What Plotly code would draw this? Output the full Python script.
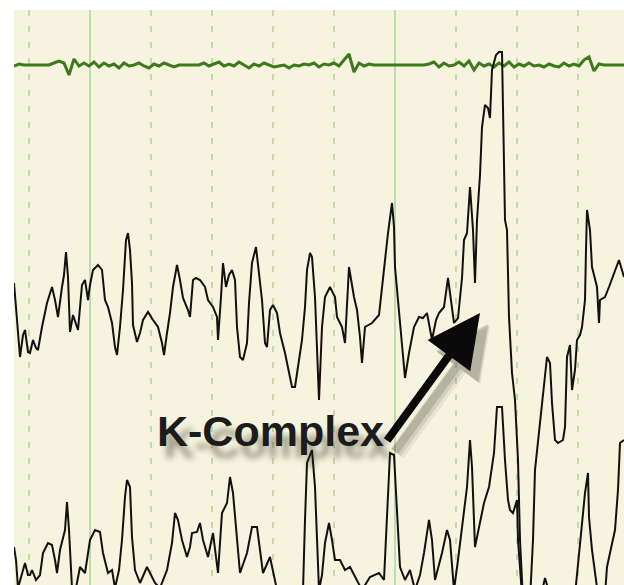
import plotly.graph_objects as go

# ---- Data (sample position, displayed level; level axis increases downward) ----
green_start = 14
green_step = 5
green_y = [66, 64, 65, 65, 65, 65, 65, 65, 63, 61, 63, 75, 59, 66, 63, 66, 62, 67, 63, 66,
           64, 68, 63, 66, 65, 63, 66, 68, 64, 66, 63, 65, 67, 65, 65, 65, 65, 65, 63, 66,
           64, 62, 66, 64, 66, 62, 65, 68, 64, 66, 63, 65, 67, 66, 65, 68, 65, 66, 64, 65,
           63, 67, 64, 65, 63, 66, 60, 54, 72, 63, 66, 64, 65, 65, 65, 65, 65, 65, 65, 65,
           65, 65, 65, 64, 62, 67, 63, 66, 65, 62, 66, 61, 70, 63, 66, 64, 67, 63, 66, 62,
           67, 64, 66, 63, 66, 65, 67, 64, 66, 67, 63, 66, 64, 66, 60, 57, 71, 64, 65, 65,
           65, 65, 65]
green_x = [green_start + green_step * i for i in range(len(green_y))]

mid_x = [14, 17, 20, 23, 25, 28, 30, 33, 36, 38, 42, 47, 52, 55, 58, 62, 64, 66, 68, 70,
         73, 78, 82, 85, 88, 90, 93, 98, 102, 105, 108, 112, 115, 117, 120, 123, 126, 128, 130, 132,
         133, 137, 140, 143, 148, 153, 158, 162, 164, 167, 170, 173, 177, 180, 183, 188, 190, 193, 196, 200,
         205, 208, 213, 217, 218, 221, 223, 226, 229, 232, 235, 237, 240, 243, 247, 249, 252, 256, 258, 262,
         265, 267, 270, 273, 277, 280, 285, 288, 292, 295, 298, 302, 305, 307, 310, 312, 315, 319, 322, 325,
         330, 335, 337, 342, 345, 348, 349, 354, 357, 360, 362, 365, 368, 372, 379, 382, 385, 388, 392, 394,
         395, 399, 403, 405, 409, 414, 419, 423, 427, 432, 436, 439, 444, 447, 448, 450, 454, 458, 462, 464,
         467, 470, 473, 475, 477, 480, 482, 485, 488, 490, 492, 496, 499, 502, 503, 505, 507, 509, 512, 515,
         517, 518, 520, 523, 530, 533, 535, 538, 540, 543, 547, 550, 552, 555, 558, 563, 565, 567, 570, 572,
         575, 577, 580, 582, 585, 586, 587, 590, 592, 597, 599, 600, 605, 609, 614, 619, 624]
mid_y = [283, 320, 357, 335, 330, 352, 353, 340, 348, 350, 327, 303, 287, 300, 317, 287, 275, 252, 277, 332,
         315, 330, 285, 280, 300, 285, 270, 265, 270, 300, 307, 323, 347, 355, 327, 290, 240, 233, 250, 283,
         325, 342, 333, 320, 312, 320, 327, 343, 355, 333, 313, 287, 265, 280, 298, 310, 317, 280, 278, 280,
         287, 300, 307, 317, 340, 297, 263, 287, 275, 270, 280, 327, 357, 360, 343, 303, 263, 247, 267, 300,
         343, 347, 310, 305, 313, 333, 353, 367, 387, 387, 367, 340, 307, 270, 253, 257, 297, 400, 327, 297,
         287, 297, 317, 327, 343, 293, 267, 297, 310, 337, 363, 327, 325, 323, 315, 287, 263, 233, 203, 227,
         267, 313, 360, 378, 353, 327, 317, 318, 313, 340, 320, 313, 307, 287, 278, 293, 323, 318, 278, 240,
         233, 187, 230, 283, 220, 175, 127, 105, 108, 118, 70, 55, 52, 52, 110, 220, 230, 317, 373, 400,
         440, 460, 540, 600, 600, 540, 470, 440, 423, 390, 357, 363, 403, 440, 443, 440, 427, 357, 345, 390,
         370, 340, 335, 327, 300, 250, 210, 230, 267, 287, 323, 300, 297, 287, 273, 260, 277]

bot_x = [14, 16, 18, 22, 25, 28, 30, 32, 36, 40, 43, 48, 52, 55, 57, 60, 65, 67, 69, 72,
         76, 80, 85, 90, 95, 100, 103, 108, 112, 115, 119, 122, 125, 127, 130, 132, 135, 140, 147, 152,
         155, 160, 167, 172, 175, 178, 182, 187, 190, 192, 197, 200, 203, 208, 213, 218, 222, 227, 230, 233,
         237, 240, 247, 252, 257, 260, 263, 270, 273, 277, 290, 303, 305, 307, 312, 315, 319, 322, 325, 329,
         332, 335, 340, 345, 350, 355, 362, 370, 379, 384, 387, 390, 394, 397, 400, 405, 410, 415, 420, 424,
         429, 432, 435, 442, 447, 450, 454, 458, 462, 467, 470, 472, 475, 479, 484, 489, 494, 497, 502, 505,
         508, 510, 513, 517, 518, 522, 540, 545, 550, 575, 577, 582, 585, 588, 589, 592, 598, 605, 607, 610,
         615, 618, 620, 624]
bot_y = [547, 560, 588, 575, 563, 575, 575, 570, 580, 575, 553, 543, 545, 560, 573, 550, 530, 502, 530, 588,
         588, 567, 573, 540, 530, 532, 553, 573, 570, 588, 570, 540, 497, 480, 487, 537, 570, 583, 567, 577,
         583, 588, 570, 543, 513, 520, 540, 557, 547, 533, 532, 523, 540, 557, 533, 573, 513, 503, 477, 493,
         540, 573, 553, 527, 527, 550, 573, 557, 573, 590, 595, 590, 520, 463, 450, 487, 590, 575, 543, 523,
         540, 560, 560, 570, 567, 577, 590, 577, 573, 580, 520, 453, 455, 513, 567, 580, 570, 590, 575, 553,
         520, 540, 580, 553, 530, 540, 590, 560, 527, 487, 440, 467, 547, 527, 503, 487, 453, 407, 407, 460,
         500, 510, 513, 500, 540, 595, 600, 578, 595, 595, 573, 523, 493, 473, 517, 550, 595, 595, 567, 553,
         530, 490, 443, 440]

label_text = "K-Complex"
label_pos = (270, 431)
arrow_tail = (386, 442)
arrow_head = (480, 313)

# ---- Styling ----
BG = "#F6F3DE"
GRID = "#BEDDA8"
GREEN = "#3C7A1C"
BLACK = "#111111"

fig = go.Figure()
fig.add_trace(go.Scatter(x=green_x, y=green_y, mode="lines",
                         line=dict(color=GREEN, width=3), hoverinfo="skip"))
fig.add_trace(go.Scatter(x=mid_x, y=mid_y, mode="lines",
                         line=dict(color=BLACK, width=2), hoverinfo="skip"))
fig.add_trace(go.Scatter(x=bot_x, y=bot_y, mode="lines",
                         line=dict(color=BLACK, width=2), hoverinfo="skip"))

# arrow shadow (soft layers)
for dx, dy, op, w in [(10, 13, 0.08, 16), (9, 12, 0.12, 12), (8, 11, 0.18, 8)]:
    fig.add_annotation(x=arrow_head[0] + dx, y=arrow_head[1] + dy,
                       ax=arrow_tail[0] + dx, ay=arrow_tail[1] + dy,
                       xref="x", yref="y", axref="x", ayref="y",
                       text="", showarrow=True, arrowhead=2, arrowsize=10.5 / w,
                       arrowwidth=w, arrowcolor="rgb(60,60,40)", opacity=op, standoff=0)

fig.add_annotation(x=arrow_head[0], y=arrow_head[1], ax=arrow_tail[0], ay=arrow_tail[1],
                   xref="x", yref="y", axref="x", ayref="y",
                   text="", showarrow=True, arrowhead=2, arrowsize=1.32,
                   arrowwidth=8, arrowcolor="#0a0a0a", standoff=0)

fig.add_annotation(x=label_pos[0], y=label_pos[1], xref="x", yref="y",
                   text=label_text, showarrow=False,
                   font=dict(family="Liberation Sans, Arial, sans-serif", size=43,
                             color="#1c1c1c", weight="bold",
                             shadow="7px 12px 6px rgba(40,40,20,0.45)"))

fig.update_layout(
    width=624, height=585,
    margin=dict(l=14, r=0, t=10, b=0),
    paper_bgcolor="white", plot_bgcolor=BG,
    showlegend=False,
    xaxis=dict(range=[14, 624], showticklabels=False, ticks="", zeroline=False,
               showgrid=True, gridcolor=GRID, gridwidth=2, tick0=90, dtick=305,
               minor=dict(showgrid=True, tick0=29, dtick=61, gridcolor=GRID,
                          gridwidth=2, griddash="6px,10px")),
    yaxis=dict(range=[585, 10], showticklabels=False, ticks="", zeroline=False,
               showgrid=False),
)

fig.write_html("out.html", config={"displayModeBar": False},
               post_script="document.body.style.margin='0';document.body.style.overflow='hidden';")
